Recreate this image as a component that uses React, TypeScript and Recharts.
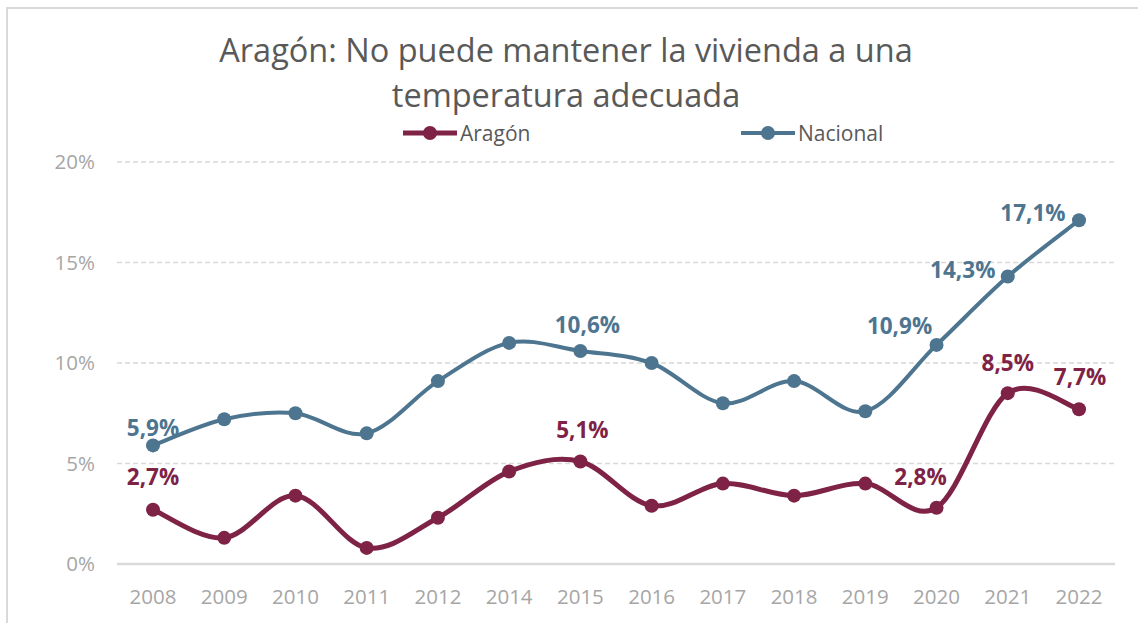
import { LineChart, Line, XAxis, YAxis, CartesianGrid } from 'recharts';

const years = ['2008', '2009', '2010', '2011', '2012', '2014', '2015', '2016', '2017', '2018', '2019', '2020', '2021', '2022'];
const aragon = [2.7, 1.3, 3.4, 0.8, 2.3, 4.6, 5.1, 2.9, 4.0, 3.4, 4.0, 2.8, 8.5, 7.7];
const nacional = [5.9, 7.2, 7.5, 6.5, 9.1, 11.0, 10.6, 10.0, 8.0, 9.1, 7.6, 10.9, 14.3, 17.1];
const yTicks = [0, 5, 10, 15, 20];

const ARAGON = '#7e2246';
const NACIONAL = '#4e7590';
const FONT = '"Open Sans", sans-serif';

// offsets de las etiquetas respecto al punto (solo los años que llevan etiqueta)
const aragonLabels: Record<number, [number, number]> = { 0: [0, -33], 6: [2, -32], 11: [-16, -31], 12: [0, -31], 13: [1, -33] };
const nacionalLabels: Record<number, [number, number]> = { 0: [0, -18], 6: [7, -26], 11: [-37, -19], 12: [-45, -7], 13: [-46, -8] };

// suavizado tipo Excel (Catmull-Rom)
const excelCurve = (context: any) => {
  let pts: number[][] = [];
  return {
    areaStart() {},
    areaEnd() {},
    lineStart() { pts = []; },
    point(x: number, y: number) { pts.push([+x, +y]); },
    lineEnd() {
      if (!pts.length) return;
      context.moveTo(pts[0][0], pts[0][1]);
      for (let i = 0; i < pts.length - 1; i++) {
        const p0 = pts[i - 1] || pts[i];
        const p1 = pts[i];
        const p2 = pts[i + 1];
        const p3 = pts[i + 2] || p2;
        context.bezierCurveTo(
          p1[0] + (p2[0] - p0[0]) / 6, p1[1] + (p2[1] - p0[1]) / 6,
          p2[0] - (p3[0] - p1[0]) / 6, p2[1] - (p3[1] - p1[1]) / 6,
          p2[0], p2[1]
        );
      }
    },
  };
};

const makeLabel = (offsets: Record<number, [number, number]>, color: string) => (props: any) => {
  const { x, y, value, index } = props;
  const off = offsets[index];
  if (!off) return null;
  return (
    <text key={index} x={x + off[0]} y={y + off[1]} textAnchor="middle" dominantBaseline="central"
      fill={color} fontSize={22.5} fontWeight={700} fontFamily={FONT}>
      {String(value.toFixed(1)).replace('.', ',')}%
    </text>
  );
};

export default function App() {
  const data = years.map((y, i) => ({ year: y, aragon: aragon[i], nacional: nacional[i] }));

  return (
    <div style={{ position: 'absolute', left: 0, top: 0, width: 1138, height: 623, overflow: 'hidden', background: '#fff' }}>
      <div style={{ position: 'absolute', left: 6, top: 7, width: 1150, height: 640, border: '2px solid #d9d9d9' }} />
      <div style={{ position: 'absolute', left: 0, top: 27, width: 1132, textAlign: 'center', fontFamily: FONT, fontSize: 32.5, lineHeight: '45px', color: '#595959' }}>
        Aragón: No puede mantener la vivienda a una<br />temperatura adecuada
      </div>

      {/* leyenda */}
      <div style={{ position: 'absolute', left: 403, top: 118, height: 30, display: 'flex', alignItems: 'center', fontFamily: FONT, fontSize: 21, color: '#595959' }}>
        <svg width={54} height={16}><line x1={0} y1={8} x2={54} y2={8} stroke={ARAGON} strokeWidth={5} strokeLinecap="round" /><circle cx={27} cy={8} r={7} fill={ARAGON} /></svg>
        <span style={{ marginLeft: 3 }}>Aragón</span>
      </div>
      <div style={{ position: 'absolute', left: 741, top: 118, height: 30, display: 'flex', alignItems: 'center', fontFamily: FONT, fontSize: 21, color: '#595959' }}>
        <svg width={54} height={16}><line x1={0} y1={8} x2={54} y2={8} stroke={NACIONAL} strokeWidth={4} strokeLinecap="round" /><circle cx={27} cy={8} r={7} fill={NACIONAL} /></svg>
        <span style={{ marginLeft: 3 }}>Nacional</span>
      </div>

      <div style={{ position: 'absolute', left: 0, top: 0 }}>
        <LineChart width={1138} height={623} data={data} margin={{ top: 162, right: 23, bottom: 0, left: 0 }}>
          <CartesianGrid vertical={false} stroke="#d9d9d9" strokeDasharray="5 3" strokeWidth={1.5} />
          <XAxis
            dataKey="year"
            height={59}
            padding={{ left: 36, right: 36 }}
            axisLine={{ stroke: '#d9d9d9', strokeWidth: 2.5 }}
            tickLine={false}
            tickSize={0}
            tickMargin={25}
            interval={0}
            tick={{ fontSize: 20.5, fill: '#a6a6a6', fontFamily: FONT }}
          />
          <YAxis
            width={117}
            domain={[0, 20]}
            ticks={yTicks}
            axisLine={false}
            tickLine={false}
            tickSize={0}
            tickMargin={22}
            tick={{ fontSize: 20.5, fill: '#a6a6a6', fontFamily: FONT }}
            tickFormatter={(v: number) => `${v}%`}
          />
          <Line type={excelCurve as any} dataKey="nacional" stroke={NACIONAL} strokeWidth={4}
            dot={{ r: 7, fill: NACIONAL, stroke: NACIONAL, strokeWidth: 0 }} activeDot={false}
            label={makeLabel(nacionalLabels, NACIONAL)} isAnimationActive={false} />
          <Line type={excelCurve as any} dataKey="aragon" stroke={ARAGON} strokeWidth={5}
            dot={{ r: 7, fill: ARAGON, stroke: ARAGON, strokeWidth: 0 }} activeDot={false}
            label={makeLabel(aragonLabels, ARAGON)} isAnimationActive={false} />
        </LineChart>
      </div>
    </div>
  );
}
